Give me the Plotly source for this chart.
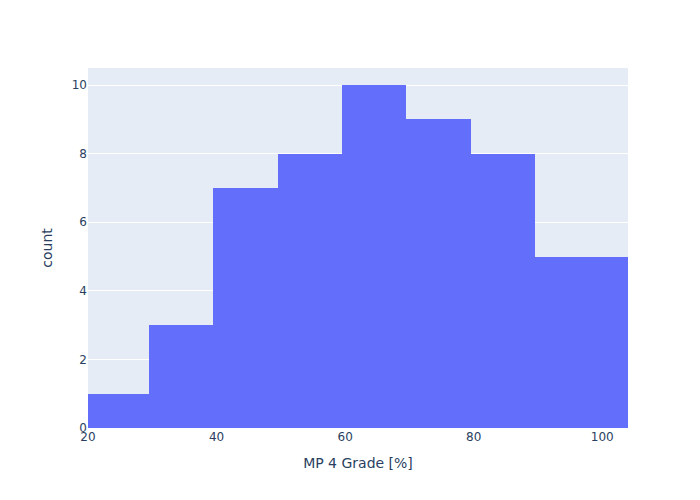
import plotly.graph_objects as go

bin_centers = [24.5, 34.5, 44.5, 54.5, 64.5, 74.5, 84.5, 94.5, 104.5]
counts = [1, 3, 7, 8, 10, 9, 8, 5, 5]

fig = go.Figure(go.Bar(x=bin_centers, y=counts, width=10,
                       marker=dict(color="#636efa", line=dict(width=0))))
fig.update_layout(
    template="plotly",
    width=700, height=500,
    margin=dict(l=80, r=80, t=60, b=80),
    font=dict(family="DejaVu Sans"),
    bargap=0,
    xaxis=dict(title="MP 4 Grade [%]", range=[20, 104], showgrid=False),
    yaxis=dict(title="count", range=[0, 10.5]),
)
fig.write_html("out.html")
